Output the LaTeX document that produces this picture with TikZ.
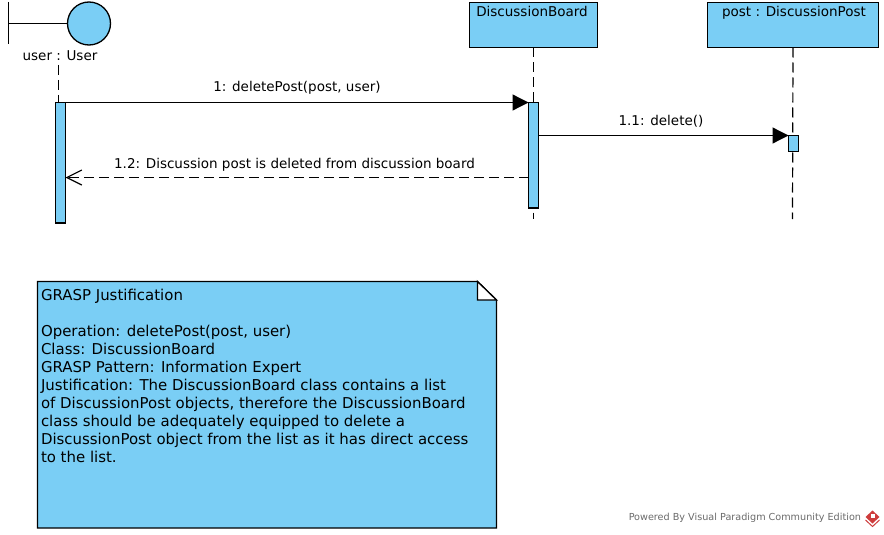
\documentclass[tikz,border=0pt]{standalone}
\usepackage{fontspec}
\setmainfont{DejaVu Sans}
\usetikzlibrary{arrows.meta}
\definecolor{vpblue}{RGB}{122,206,245}
\definecolor{vpred}{RGB}{206,60,60}
\tikzset{
  x=1pt,y=-1pt,
  every node/.style={inner sep=0pt,outer sep=0pt},
  shape line/.style={draw=black,line width=1.3pt},
  classbox/.style={shape line,fill=vpblue,anchor=north west},
  activation/.style={shape line,fill=vpblue,anchor=north west,minimum width=10pt},
  lifeline/.style={draw=black,line width=1.2pt,dash pattern=on 10pt off 5pt},
  message/.style={draw=black,line width=1.3pt,-{Triangle[length=16pt,width=16pt]}},
  reply/.style={draw=black,line width=1.2pt,dash pattern=on 10pt off 5pt,-{Straight Barb[length=15pt,width=15pt,line width=1.2pt]}},
  txt/.style={font=\fontsize{13.5pt}{18pt}\selectfont,text=black,text height=10pt,text depth=3pt},
  notetxt/.style={font=\fontsize{14.95pt}{18pt}\selectfont,text=black},
}
\begin{document}
\begin{tikzpicture}
\useasboundingbox (0,0) rectangle (884,535);
\fill[white] (0,0) rectangle (884,535);
% lifeline ends
\coordinate (userend) at (58.5,102.5);
\coordinate (boardend) at (533.5,219);
\coordinate (postend) at (792.5,219);
% boundary actor
\node[shape line,fill=vpblue,circle,minimum size=43pt] (user) at (89,23.5) {};
\coordinate (bartop) at (8.5,2);
\coordinate (barbot) at (8.5,44.5);
\coordinate (barmid) at (8.5,23.5);
\draw[shape line] (bartop) -- (barbot);
\draw[shape line] (barmid) -- (user.west);
\node[txt] (userlabel) at (60,57.5) {user : User};
% class boxes
\node[classbox,minimum width=128pt,minimum height=45pt] (board) at (469.5,2.5) {};
\node[classbox,minimum width=171pt,minimum height=45pt] (post) at (707.5,2.5) {};
\node[txt] (boardlabel) at (532,13.5) {DiscussionBoard};
\node[txt] (postlabel) at (794,13.5) {post : DiscussionPost};
% lifelines
\coordinate (userstart) at (58.5,65);
\draw[lifeline] (userstart) -- (userend);
\draw[lifeline] (board.south) -- (boardend);
\draw[lifeline] (post.south) -- (postend);
% activations
\node[activation,minimum height=120.5pt] (userbar) at (55.5,102.5) {};
\node[activation,minimum height=105.5pt] (boardbar) at (528.5,102.5) {};
\node[activation,minimum height=16pt] (postbar) at (788.5,135.5) {};
% messages
\draw[message] (userbar.north east) -- (boardbar.north west);
\node[txt] (m1) at (297,88.5) {1: deletePost(post, user)};
\coordinate (m2start) at (boardbar.east |- postbar.north);
\draw[message] (m2start) -- (postbar.north west);
\node[txt] (m2) at (661,121.5) {1.1: delete()};
\coordinate (m3start) at (528.5,177.5);
\coordinate (m3end) at (65.5,177.5);
\draw[reply] (m3start) -- (m3end);
\node[txt] (m3) at (294.5,164.5) {1.2: Discussion post is deleted from discussion board};
% note
\coordinate (nw) at (37.5,281.5);
\coordinate (ne) at (477.5,281.5);
\coordinate (nf) at (496.5,300);
\coordinate (nc) at (477.5,300);
\coordinate (se) at (496.5,528);
\coordinate (sw) at (37.5,528);
\draw[shape line,fill=vpblue] (nw) -- (ne) -- (nf) -- (se) -- (sw) -- cycle;
\draw[shape line,fill=white] (ne) -- (nf) -- (nc) -- cycle;
\node[notetxt,anchor=north west,align=left] (note) at (41,289.5) {GRASP Justification\\[18pt]Operation: deletePost(post, user)\\Class: DiscussionBoard\\GRASP Pattern: Information Expert\\Justification: The DiscussionBoard class contains a list\\of DiscussionPost objects, therefore the DiscussionBoard\\class should be adequately equipped to delete a\\DiscussionPost object from the list as it has direct access\\to the list.};
% watermark
\node[anchor=east,font=\fontsize{9.65pt}{12pt}\selectfont,text=black!58] (wm) at (861,518) {Powered By Visual Paradigm Community Edition};
\fill[vpred] (872.5,510.5) -- (879.5,517) -- (872.5,523.5) -- (865.5,517) -- cycle;
\fill[white] (870.5,514) -- (874.5,514) -- (874.5,518) -- (870.5,518) -- cycle;
\draw[vpred,line width=1pt] (865.5,520) -- (872.5,526.5) -- (879.5,520);
\end{tikzpicture}
\end{document}
